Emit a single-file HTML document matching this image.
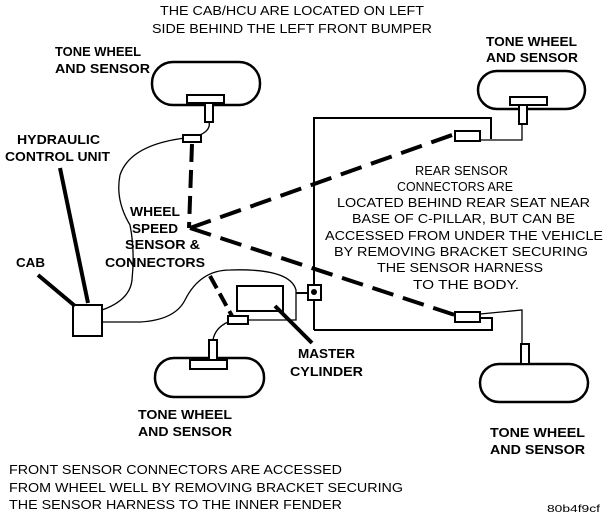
<!DOCTYPE html>
<html><head><style>
html,body{margin:0;padding:0;background:#fff;}
svg{display:block;}
text{font-family:"Liberation Sans",sans-serif;fill:#000;}
.b{font-weight:bold;}
.n{font-weight:normal;}
</style></head><body>
<svg width="608" height="522" viewBox="0 0 608 522" xmlns="http://www.w3.org/2000/svg">
<g font-size="12.5" class="b" lengthAdjust="spacingAndGlyphs">
<text class="b" x="55" y="56" textLength="86" lengthAdjust="spacingAndGlyphs">TONE WHEEL</text>
<text class="b" x="55" y="73" textLength="95" lengthAdjust="spacingAndGlyphs">AND SENSOR</text>
<text class="b" x="486" y="46" textLength="91" lengthAdjust="spacingAndGlyphs">TONE WHEEL</text>
<text class="b" x="486" y="62" textLength="92" lengthAdjust="spacingAndGlyphs">AND SENSOR</text>
<text class="b" x="17" y="144" textLength="83" lengthAdjust="spacingAndGlyphs">HYDRAULIC</text>
<text class="b" x="5" y="161" textLength="105" lengthAdjust="spacingAndGlyphs">CONTROL UNIT</text>
<text class="b" x="130" y="216" textLength="50" lengthAdjust="spacingAndGlyphs">WHEEL</text>
<text class="b" x="132" y="233" textLength="46" lengthAdjust="spacingAndGlyphs">SPEED</text>
<text class="b" x="125" y="249" textLength="75" lengthAdjust="spacingAndGlyphs">SENSOR &amp;</text>
<text class="b" x="105" y="267" textLength="100" lengthAdjust="spacingAndGlyphs">CONNECTORS</text>
<text class="b" x="16" y="267" textLength="29" lengthAdjust="spacingAndGlyphs">CAB</text>
<text class="b" x="298" y="358" textLength="57" lengthAdjust="spacingAndGlyphs">MASTER</text>
<text class="b" x="290" y="376" textLength="73" lengthAdjust="spacingAndGlyphs">CYLINDER</text>
<text class="b" x="138" y="419" textLength="94" lengthAdjust="spacingAndGlyphs">TONE WHEEL</text>
<text class="b" x="138" y="436" textLength="94" lengthAdjust="spacingAndGlyphs">AND SENSOR</text>
<text class="b" x="490" y="437" textLength="95" lengthAdjust="spacingAndGlyphs">TONE WHEEL</text>
<text class="b" x="490" y="454" textLength="95" lengthAdjust="spacingAndGlyphs">AND SENSOR</text>
</g>
<g font-size="12.5">
<text class="n" x="160" y="15" textLength="264" lengthAdjust="spacingAndGlyphs">THE CAB/HCU ARE LOCATED ON LEFT</text>
<text class="n" x="152" y="33" textLength="280" lengthAdjust="spacingAndGlyphs">SIDE BEHIND THE LEFT FRONT BUMPER</text>
<text class="n" x="415" y="175" textLength="93" lengthAdjust="spacingAndGlyphs">REAR SENSOR</text>
<text class="n" x="397" y="191" textLength="116" lengthAdjust="spacingAndGlyphs">CONNECTORS ARE</text>
<text class="n" x="337" y="207" textLength="253" lengthAdjust="spacingAndGlyphs">LOCATED BEHIND REAR SEAT NEAR</text>
<text class="n" x="352" y="223" textLength="223" lengthAdjust="spacingAndGlyphs">BASE OF C-PILLAR, BUT CAN BE</text>
<text class="n" x="325" y="240" textLength="278" lengthAdjust="spacingAndGlyphs">ACCESSED FROM UNDER THE VEHICLE</text>
<text class="n" x="334" y="256" textLength="254" lengthAdjust="spacingAndGlyphs">BY REMOVING BRACKET SECURING</text>
<text class="n" x="377" y="272" textLength="166" lengthAdjust="spacingAndGlyphs">THE SENSOR HARNESS</text>
<text class="n" x="413" y="289" textLength="106" lengthAdjust="spacingAndGlyphs">TO THE BODY.</text>
<text class="n" x="9" y="474" textLength="333" lengthAdjust="spacingAndGlyphs">FRONT SENSOR CONNECTORS ARE ACCESSED</text>
<text class="n" x="9" y="492" textLength="394" lengthAdjust="spacingAndGlyphs">FROM WHEEL WELL BY REMOVING BRACKET SECURING</text>
<text class="n" x="9" y="509" textLength="333" lengthAdjust="spacingAndGlyphs">THE SENSOR HARNESS TO THE INNER FENDER</text>
<text class="n" x="547" y="512" font-size="10.5" textLength="53" lengthAdjust="spacingAndGlyphs">80b4f9cf</text>
</g>
<g fill="none" stroke="#000">
<rect x="152" y="62" width="108" height="43" rx="21" stroke-width="2.5"/>
<rect x="478" y="71" width="107" height="38" rx="19" stroke-width="2.5"/>
<rect x="155" y="358" width="109" height="39" rx="19" stroke-width="2.5"/>
<rect x="480" y="364" width="108" height="38" rx="19" stroke-width="2.5"/>
</g>
<g fill="#fff" stroke="#000" stroke-width="2">
<rect x="187" y="95" width="37" height="8"/>
<rect x="205" y="103" width="8" height="19"/>
<rect x="510" y="97" width="37" height="8"/>
<rect x="519" y="105" width="8" height="19"/>
<rect x="190" y="360" width="37" height="9"/>
<rect x="209" y="340" width="8" height="20"/>
<rect x="521" y="344" width="8" height="20"/>
<rect x="73" y="305" width="29" height="31"/>
<rect x="237" y="286" width="46" height="25"/>
</g>
<g fill="none" stroke="#000" stroke-width="1.3">
<path d="M209,122 Q211,130 200,135"/>
<path d="M185,138 Q130,145 120,175 Q115,200 130,225 Q135,250 132,280 Q130,300 102,310"/>
<path d="M102,322 L140,322 Q175,320 185,300 Q200,270 230,270 Q290,268 296,290 L296,320 L247,320"/>
<path d="M213,340 Q215,328 228,322"/>
<path d="M522,124 L522,140 L480,140"/>
<path d="M480,314 L522,310 L522,344"/>
</g>
<g fill="none" stroke="#000" stroke-width="2">
<path d="M314,330 L314,118 L491,118 L491,139"/>
<path d="M314,330 L492,330 L492,318 L480,318"/>
<path d="M296,293 L308,293"/>
</g>
<g fill="#fff" stroke="#000" stroke-width="2">
<rect x="183" y="135" width="18" height="7"/>
<rect x="455" y="131" width="25" height="10"/>
<rect x="455" y="312" width="25" height="10"/>
<rect x="228" y="316" width="20" height="8"/>
<rect x="308" y="285" width="13" height="15"/>
</g>
<circle cx="314" cy="292" r="3" fill="#000"/>
<g stroke="#000" stroke-width="4" fill="none">
<path d="M60,168 L88,303"/>
<path d="M38,275 L75,306"/>
<path d="M275,306 L312,343"/>
<path d="M192,144 L189,228" stroke-dasharray="18,8"/>
<path d="M190,228 L455,134" stroke-dasharray="22,10"/>
<path d="M190,228 L455,315" stroke-dasharray="22,10"/>
<path d="M210,276 L232,316" stroke-dasharray="14,6"/>
</g>
</svg>
</body></html>
